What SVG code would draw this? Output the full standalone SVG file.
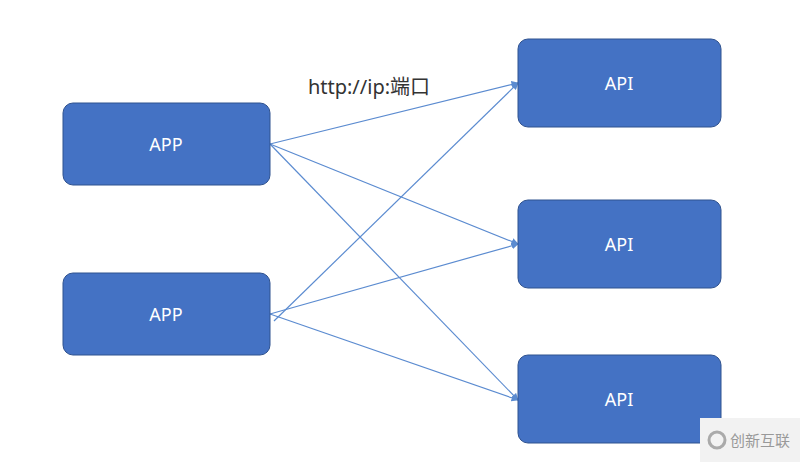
<svg xmlns="http://www.w3.org/2000/svg" width="800" height="462" viewBox="0 0 800 462">
<style>
.n{fill:#4472C4;stroke:#2F528F;stroke-width:1}
.t{fill:#fff;font-family:"Noto Sans","Liberation Sans",sans-serif;font-size:18px;text-anchor:middle;dominant-baseline:central}
.c{stroke:#5B8BD0;stroke-width:1.2;fill:none;marker-end:url(#a)}
</style>
<defs><marker id="a" viewBox="0 0 10 10" refX="9" refY="5" markerWidth="6" markerHeight="6" orient="auto"><path d="M0,0L10,5L0,10z" fill="#5B8BD0"/></marker></defs>
<rect width="800" height="462" fill="#fff"/>
<g id="connectors">
<line class="c" x1="270" y1="144" x2="518" y2="83"/>
<line class="c" x1="270" y1="144" x2="518" y2="244"/>
<line class="c" x1="270" y1="144" x2="518" y2="400"/>
<line class="c" x1="274" y1="321" x2="518" y2="83"/>
<line class="c" x1="270" y1="314" x2="518" y2="244"/>
<line class="c" x1="270" y1="314" x2="518" y2="400"/>
</g>
<text x="369" y="94" font-family="'Noto Sans','Noto Sans CJK SC',sans-serif" font-size="20" fill="#333" text-anchor="middle">http://ip:端口</text>
<g id="app1"><rect class="n" x="63" y="103" width="207" height="82" rx="10"/><text class="t" x="166" y="144">APP</text></g>
<g id="app2"><rect class="n" x="63" y="273" width="207" height="82" rx="10"/><text class="t" x="166" y="314">APP</text></g>
<g id="api1"><rect class="n" x="518" y="39" width="203" height="88" rx="10"/><text class="t" x="619" y="83">API</text></g>
<g id="api2"><rect class="n" x="518" y="200" width="203" height="88" rx="10"/><text class="t" x="619" y="244">API</text></g>
<g id="api3"><rect class="n" x="518" y="355" width="203" height="88" rx="10"/><text class="t" x="619" y="399">API</text></g>
<g id="watermark">
<rect x="700" y="418" width="100" height="44" fill="#f2f2f2"/>
<circle cx="717" cy="440" r="8" fill="none" stroke="#aaa" stroke-width="3"/>
<text x="760" y="446" font-family="'Noto Sans CJK SC',sans-serif" font-size="15" fill="#999" text-anchor="middle">创新互联</text>
</g>
</svg>
